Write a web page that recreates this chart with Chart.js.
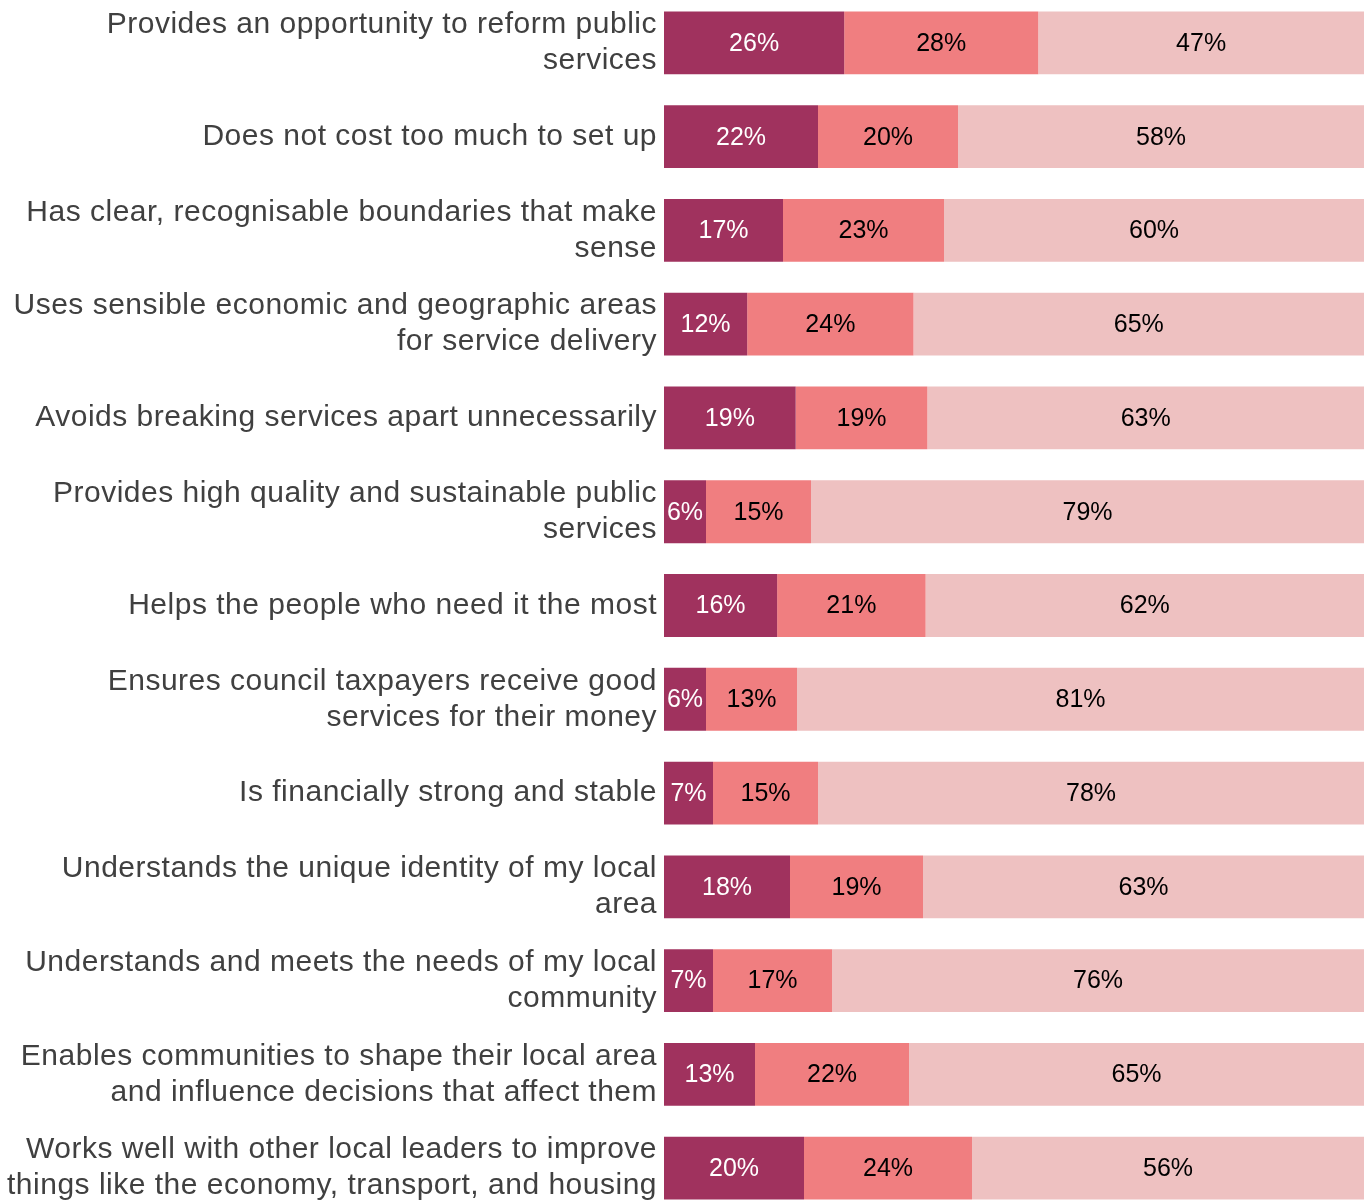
<!DOCTYPE html>
<html>
<head>
<meta charset="utf-8">
<script src="https://cdn.jsdelivr.net/npm/chart.js@4/dist/chart.umd.min.js"></script>
<style>
  html, body { margin: 0; padding: 0; background: #ffffff; overflow: hidden; }
  #wrap { position: absolute; left: 0; top: -4px; width: 1368px; height: 1219px; }
</style>
</head>
<body>
<div id="wrap"><canvas id="c"></canvas></div>
<script>
const categories = [
  ["Provides an opportunity to reform public", "services"],
  ["Does not cost too much to set up"],
  ["Has clear, recognisable boundaries that make", "sense"],
  ["Uses sensible economic and geographic areas", "for service delivery"],
  ["Avoids breaking services apart unnecessarily"],
  ["Provides high quality and sustainable public", "services"],
  ["Helps the people who need it the most"],
  ["Ensures council taxpayers receive good", "services for their money"],
  ["Is financially strong and stable"],
  ["Understands the unique identity of my local", "area"],
  ["Understands and meets the needs of my local", "community"],
  ["Enables communities to shape their local area", "and influence decisions that affect them"],
  ["Works well with other local leaders to improve", "things like the economy, transport, and housing"]
];
const seriesA = [26, 22, 17, 12, 19, 6, 16, 6, 7, 18, 7, 13, 20];
const seriesB = [28, 20, 23, 24, 19, 15, 21, 13, 15, 19, 17, 22, 24];
const seriesC = [47, 58, 60, 65, 63, 79, 62, 81, 78, 63, 76, 65, 56];
const colors = ["#A0325E", "#F07E80", "#EEC1C1"];
const labelColors = ["#ffffff", "#000000", "#000000"];

// normalise each row to 100 so the stacked bars fill the full width
const rowTotals = seriesA.map((v, i) => v + seriesB[i] + seriesC[i]);
const norm = arr => arr.map((v, i) => v / rowTotals[i] * 100);
const raw = [seriesA, seriesB, seriesC];

const spacingPlugin = {
  id: 'spacing',
  beforeDraw(chart) { chart.ctx.letterSpacing = '0.5px'; }
};

const labelPlugin = {
  id: 'segLabels',
  afterDatasetsDraw(chart) {
    const ctx = chart.ctx;
    ctx.save();
    ctx.letterSpacing = '0px';
    ctx.font = '25px "Liberation Sans", Arial, sans-serif';
    ctx.textAlign = 'center';
    ctx.textBaseline = 'middle';
    chart.data.datasets.forEach((ds, di) => {
      const meta = chart.getDatasetMeta(di);
      meta.data.forEach((el, i) => {
        const cx = (el.x + el.base) / 2;
        ctx.fillStyle = labelColors[di];
        ctx.fillText(raw[di][i] + '%', cx, el.y + 1);
      });
    });
    ctx.restore();
  }
};

new Chart(document.getElementById('c'), {
  type: 'bar',
  data: {
    labels: categories,
    datasets: [
      { label: 'A', data: norm(seriesA), backgroundColor: colors[0] },
      { label: 'B', data: norm(seriesB), backgroundColor: colors[1] },
      { label: 'C', data: norm(seriesC), backgroundColor: colors[2] }
    ]
  },
  options: {
    indexAxis: 'y',
    responsive: true,
    maintainAspectRatio: false,
    animation: false,
    layout: { padding: { left: 0, right: 4, top: 0, bottom: 0 } },
    datasets: { bar: { barPercentage: 0.67, categoryPercentage: 1.0, borderWidth: 0 } },
    plugins: { legend: { display: false }, tooltip: { enabled: false } },
    scales: {
      x: {
        stacked: true, min: 0, max: 100, display: false
      },
      y: {
        stacked: true,
        grid: { display: false, drawTicks: false },
        border: { display: false },
        afterFit(scale) {
          scale.width = 664;
          scale.paddingTop = 0;
          scale.paddingBottom = 0;
        },
        ticks: {
          padding: 7,
          color: '#404040',
          font: { family: '"Liberation Sans", Arial, sans-serif', size: 30, lineHeight: 1.2 },
          crossAlign: 'near'
        }
      }
    }
  },
  plugins: [spacingPlugin, labelPlugin]
});
</script>
</body>
</html>
